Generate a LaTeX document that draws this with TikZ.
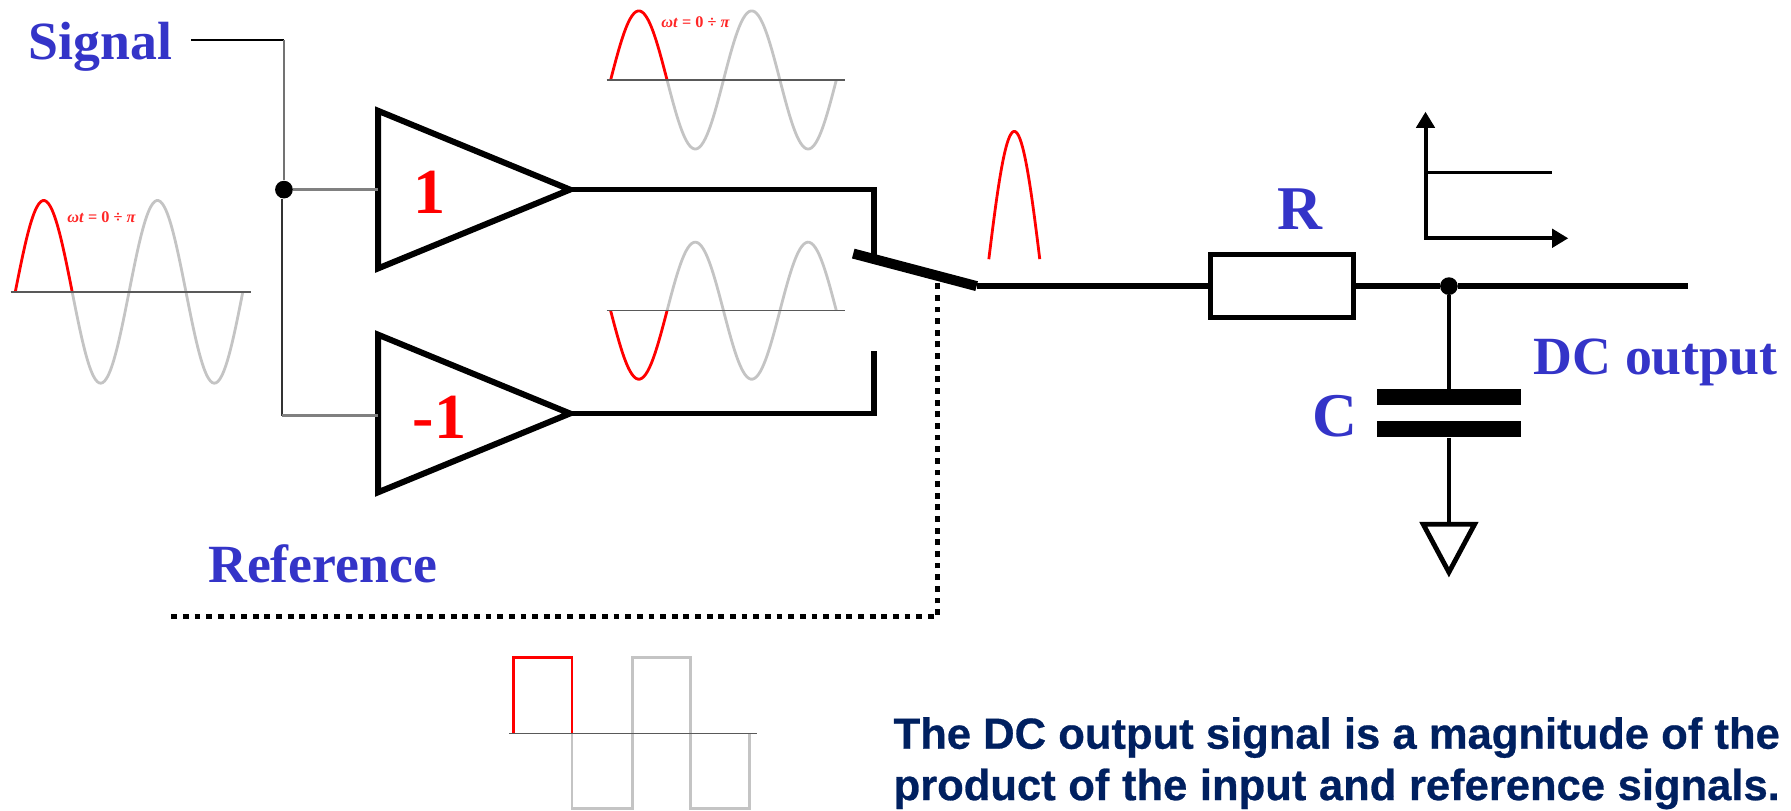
\documentclass[tikz,border=0pt]{standalone}
\usepackage{fontspec}
\setmainfont{Liberation Serif}
\newfontfamily\notefont[BoldFeatures={FakeBold=0.6}]{Liberation Sans}
\usetikzlibrary{arrows.meta,shapes.geometric}
\definecolor{labelblue}{RGB}{52,52,200}
\definecolor{notenavy}{RGB}{0,32,96}
\definecolor{wavegrey}{RGB}{196,196,196}
\tikzset{
  wire/.style={draw=black,line width=2.8pt},
  thinwire/.style={draw=#1,line width=1.1pt},
  wavegray/.style={draw=wavegrey,line width=1.4pt},
  wavered/.style={draw=red,line width=1.4pt},
  waveaxis/.style={draw=black!65,line width=0.8pt},
  amp/.style={isosceles triangle,isosceles triangle stretches,draw=black,line width=3pt,
    minimum width=2.76cm,minimum height=3.36cm,inner sep=0pt,outer sep=0pt,anchor=apex},
  junction/.style={circle,fill=black,inner sep=0pt,minimum size=0.31cm},
  plate/.style={rectangle,fill=black,inner sep=0pt,minimum width=2.52cm,minimum height=0.28cm},
  bluelabel/.style={text=labelblue,font=\fontsize{26.8}{30}\selectfont\bfseries,inner sep=0pt,anchor=base west},
  biglabel/.style={text=labelblue,font=\fontsize{31}{34}\selectfont\bfseries,inner sep=0pt,anchor=base west},
  gainlabel/.style={text=red,font=\fontsize{32}{35}\selectfont\bfseries,inner sep=0pt,anchor=base west},
  phaselabel/.style={text=red!85,font=\fontsize{8.1}{9}\selectfont\bfseries,inner sep=0pt}
}
\begin{document}
\begin{tikzpicture}[x=0.02cm,y=-0.02cm]
  \useasboundingbox (0,0) rectangle (1568,710);

  \foreach \xa/\half/\ya/\amp/\xl/\xr in {13.4/49.8/255.5/80/9.4/219.4,534.6/49.4/70/60.5/531/740,534.6/49.4/272/-60/531/740}{
    \draw[wavegray] plot[domain=1:4,samples=90,smooth] ({\xa+\half*\x},{\ya-\amp*sin(180*\x)});
    \draw[wavered] plot[domain=0:1,samples=30,smooth] ({\xa+\half*\x},{\ya-\amp*sin(180*\x)});
    \draw[waveaxis] (\xl,\ya) -- (\xr,\ya);
  }
  \node[phaselabel] (phaseA) at (89,190) {\textit{ωt} = 0 ÷ \textit{π}};
  \node[phaselabel] (phaseB) at (609,19.5) {\textit{ωt} = 0 ÷ \textit{π}};

  \draw[wavered] plot[domain=-1:1,samples=40,smooth] ({888+22.3*\x},{240-125*cos(84*\x)});

  \draw[wavegray] (500.7,642) -- (500.7,707.7) -- (553.4,707.7) -- (553.4,575.5) -- (604.7,575.5)
    -- (604.7,707.7) -- (655.9,707.7) -- (655.9,642);
  \draw[wavered] (449.5,642) -- (449.5,575.5) -- (500.7,575.5) -- (500.7,642);
  \draw[waveaxis] (445.8,642) -- (663,642);

  \node[amp] (ampA) at (499,166) {};
  \node[amp] (ampB) at (499,362) {};
  \node[gainlabel] (gainA) at (362,187) {1};
  \node[gainlabel] (gainB) at (361,384) {-1};

  \node[junction] (jin) at (248.6,166) {};
  \coordinate (sigstart) at (167.5,35);
  \coordinate (sigbend) at (248.6,35);
  \coordinate (lowbend) at (247,364);
  \draw[thinwire=black] (sigstart) -- (sigbend);
  \draw[thinwire=black!55] (sigbend) -- (jin);
  \draw[thinwire=black!50,line width=1.6pt] (jin) -- (ampA.lower side);
  \draw[thinwire=black!80] (jin.south -| lowbend) -- (lowbend);
  \draw[thinwire=black!50,line width=1.6pt] (lowbend) -- (lowbend -| ampB.lower side);

  \coordinate (contactA) at (765,225);
  \coordinate (contactB) at (765,307);
  \coordinate (swleft) at (747,222);
  \coordinate (swright) at (855,250.5);
  \coordinate (swtap) at (821,242);
  \coordinate (refstart) at (150,540);
  \coordinate (refbend) at (821,540);
  \draw[wire] (ampA.apex) -| (contactA);
  \draw[wire] (ampB.apex) -| (contactB);
  \draw[draw=black,line width=5pt] (swleft) -- (swright);
  \draw[draw=black,line width=2.6pt,dash pattern=on 2.9pt off 2.9pt] (refstart) -- (refbend) -- (swtap);

  \node[draw=black,line width=2.4pt,inner sep=0pt,minimum width=2.5cm,minimum height=1.1cm] (res) at (1122.2,250.5) {};
  \node[junction] (jout) at (1268.5,250.5) {};
  \coordinate (outend) at (1478,250.5);
  \draw[wire] (swright) -- (res.west);
  \draw[wire] (res.east) -- (jout) -- (outend);

  \node[plate] (capA) at (1268.5,347.8) {};
  \node[plate] (capB) at (1268.5,376) {};
  \node[isosceles triangle,isosceles triangle stretches,shape border rotate=270,draw=black,line width=2.4pt,
    minimum width=0.9cm,minimum height=0.84cm,inner sep=0pt,outer sep=0pt,anchor=apex] (gnd) at (1268.5,501) {};
  \draw[wire,line width=2.3pt] (jout) -- (capA);
  \draw[wire,line width=2.3pt] (capB) -- (gnd.lower side);

  \coordinate (origin) at (1248,208.6);
  \coordinate (ytip) at (1248,97.8);
  \coordinate (xtip) at (1373,208.6);
  \coordinate (stepstart) at (1248,151);
  \coordinate (stepend) at (1359,151);
  \draw[draw=black,line width=2pt,{Triangle[length=8pt,width=9pt]}-{Triangle[length=8pt,width=9pt]}] (ytip) -- (origin) -- (xtip);
  \draw[draw=black,line width=1.7pt] (stepstart) -- (stepend);

  \node[bluelabel] (siglabel) at (25,52.5) {Signal};
  \node[bluelabel] (reflabel) at (182,510) {Reference};
  \node[bluelabel] (dclabel) at (1342.6,327.7) {DC output};
  \node[biglabel] (rlabel) at (1118,200.5) {R};
  \node[biglabel] (clabel) at (1149,382.3) {C};

  \node[text=notenavy,anchor=north west,align=left,inner sep=0pt,
    font=\notefont\bfseries\fontsize{21.7}{25.6}\selectfont] (note) at (782,627.5)
    {\makebox[15.52cm][s]{The DC output signal is a magnitude of the}\\
     \makebox[15.52cm][s]{product of the input and reference signals.}};
\end{tikzpicture}
\end{document}
